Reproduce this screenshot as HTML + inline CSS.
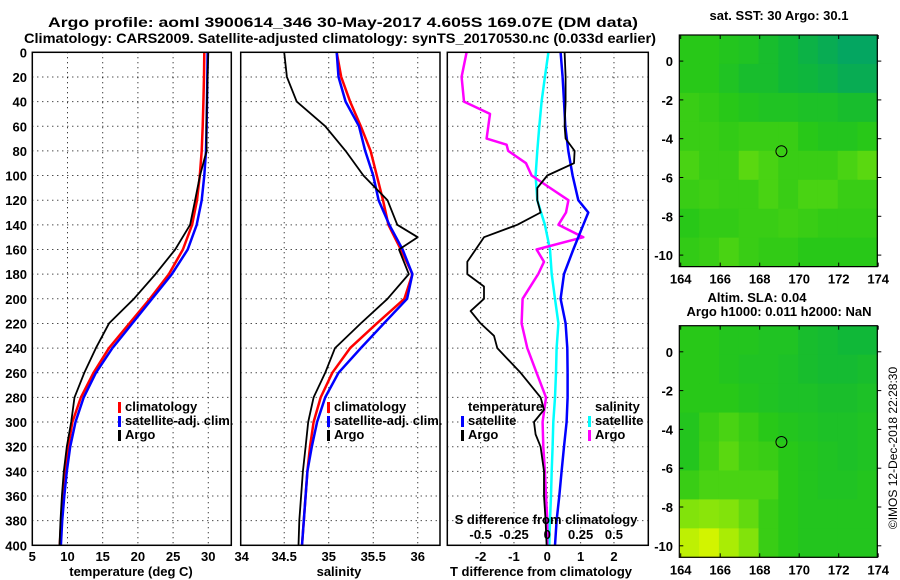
<!DOCTYPE html>
<html><head><meta charset="utf-8"><style>
body{margin:0;background:#fff;}
svg{display:block;font-family:"Liberation Sans",sans-serif;}
text{font-weight:bold;font-size:13px;fill:#000;}
</style></head><body>
<svg id="fig" width="900" height="580" viewBox="0 0 900 580">
<text x="343" y="27" text-anchor="middle" textLength="590" lengthAdjust="spacingAndGlyphs" style="font-size:14px">Argo profile: aoml 3900614_346 30-May-2017 4.605S 169.07E (DM data)</text>
<text x="340" y="43" text-anchor="middle" textLength="632" lengthAdjust="spacingAndGlyphs" style="font-size:14px">Climatology: CARS2009. Satellite-adjusted climatology: synTS_20170530.nc (0.033d earlier)</text>
<g id="g1"></g>
<g id="g2"></g>
<g id="g3"></g>
<g id="m1"></g>
<g id="m2"></g>
<text x="779" y="20" text-anchor="middle">sat. SST: 30 Argo: 30.1</text>
<text x="757" y="302" text-anchor="middle">Altim. SLA: 0.04</text>
<text x="779" y="316" text-anchor="middle">Argo h1000: 0.011 h2000: NaN</text>
<text x="0" y="0" transform="translate(897,448) rotate(-90)" text-anchor="middle" style="font-weight:normal;font-size:12px">©IMOS 12-Dec-2018 22:28:30</text>
</svg>
<script>
// ---- data ----
const depths = [0,20,40,60,80,100,120,140,160,180,200,220,240,260,280,300,320,340,360,380,400];
const tempClim = [29.44,29.39,29.3,29.2,29.06,28.8,28.4,27.7,26.4,24.4,21.7,18.8,15.9,13.7,11.9,10.7,10.1,9.7,9.3,9.1,8.9];
const tempSat = [29.9,29.86,29.82,29.76,29.68,29.44,29.06,28.35,27.08,24.83,22.01,19.2,16.38,14.04,12.3,11.13,10.38,9.9,9.54,9.25,9.06];
const tempArgo = [30.0,29.9,29.82,29.72,29.76,28.83,28.13,27.42,25.3,22.5,19.44,15.9,14.04,12.39,10.99,10.52,9.9,9.48,9.2,9.01,8.87];
const salClim = [35.09,35.14,35.24,35.36,35.47,35.54,35.61,35.67,35.81,35.94,35.85,35.54,35.24,35.04,34.91,34.83,34.79,34.76,34.74,34.72,34.70];
const salSat = [35.09,35.11,35.19,35.34,35.41,35.50,35.56,35.68,35.83,35.94,35.88,35.62,35.36,35.11,34.96,34.87,34.81,34.76,34.74,34.72,34.70];
const argoSalDepths = [0,20,40,60,80,100,120,140,150,160,180,200,220,240,260,280,300,320,340,360,380,400];
const salArgo = [34.50,34.53,34.64,34.96,35.19,35.39,35.66,35.77,36.0,35.79,35.90,35.66,35.36,35.07,34.96,34.83,34.77,34.74,34.71,34.69,34.67,34.66];
const dTsatDepths = [0,20,40,60,80,100,120,130,140,160,180,200,220,240,260,280,300,320,340,360,380,400];
const dTsat = [0.40,0.46,0.50,0.54,0.63,0.76,0.93,1.23,1.08,0.78,0.50,0.40,0.55,0.60,0.61,0.61,0.58,0.50,0.43,0.36,0.28,0.23];
const dTargoDepths = [0,20,40,60,70,80,90,100,110,120,130,140,150,170,180,190,200,210,220,230,240,260,280,290,300,310,320,340,360,380,400];
const dTargo = [0.52,0.55,0.55,0.52,0.55,0.82,0.8,0.0,-0.3,-0.3,-0.2,-0.9,-1.9,-2.4,-2.4,-1.9,-1.9,-2.3,-2.0,-1.6,-1.5,-0.8,-0.2,-0.1,-0.4,-0.35,-0.2,-0.1,-0.1,-0.05,-0.02];
const dSsat = [0.008,-0.018,-0.043,-0.06,-0.075,-0.088,-0.075,-0.018,0.02,0.033,0.058,0.083,0.07,0.065,0.058,0.045,0.04,0.033,0.028,0.02,0.015];
const dSargoDepths = [0,20,40,50,70,75,80,90,100,110,120,130,140,150,160,170,180,200,220,240,260,280,300,320,340,360,380,400];
const dSargo = [-0.605,-0.643,-0.625,-0.43,-0.455,-0.305,-0.293,-0.16,-0.118,0.02,0.158,0.14,0.083,0.27,-0.08,-0.025,-0.068,-0.185,-0.193,-0.15,-0.08,-0.01,-0.035,-0.03,-0.018,-0.01,0,0];
const depthTicks = [0,20,40,60,80,100,120,140,160,180,200,220,240,260,280,300,320,340,360,380,400];
const tempTicks = [5,10,15,20,25,30];
const salTicks = [34,34.5,35,35.5,36];
const salTickLabels = ["34","34.5","35","35.5","36"];
const dTTicks = [-2,-1,0,1,2];
const dSTicks = [-0.5,-0.25,0,0.25,0.5];
const dSTickLabels = ["-0.5","-0.25","0","0.25","0.5"];
const sstGrid = [
[0.45,0.45,0.42,0.4,0.35,0.3,0.25,0.2,0.15,0.15],
[0.45,0.45,0.4,0.35,0.35,0.3,0.28,0.25,0.2,0.2],
[0.5,0.48,0.45,0.42,0.4,0.4,0.38,0.38,0.35,0.35],
[0.5,0.5,0.48,0.5,0.5,0.5,0.45,0.42,0.42,0.45],
[0.55,0.5,0.5,0.6,0.55,0.5,0.5,0.5,0.55,0.6],
[0.5,0.52,0.5,0.5,0.55,0.5,0.55,0.55,0.5,0.5],
[0.45,0.48,0.48,0.5,0.5,0.52,0.5,0.48,0.48,0.48],
[0.48,0.5,0.55,0.5,0.48,0.48,0.45,0.45,0.45,0.45]];
const slaGrid = [
[0.45,0.45,0.42,0.42,0.4,0.4,0.35,0.33,0.3,0.3],
[0.45,0.45,0.42,0.4,0.4,0.38,0.35,0.33,0.33,0.35],
[0.45,0.45,0.45,0.42,0.4,0.38,0.38,0.36,0.36,0.38],
[0.42,0.5,0.55,0.5,0.45,0.42,0.4,0.38,0.38,0.4],
[0.42,0.52,0.6,0.52,0.5,0.45,0.42,0.4,0.38,0.4],
[0.5,0.55,0.55,0.55,0.55,0.45,0.42,0.4,0.4,0.42],
[0.7,0.72,0.7,0.62,0.5,0.45,0.42,0.42,0.42,0.42],
[0.85,0.9,0.8,0.7,0.5,0.45,0.42,0.42,0.42,0.42]];
const lonTicks = [164,166,168,170,172,174];
const latTicks = [0,-2,-4,-6,-8,-10];
const floatLon = [169.1];
const floatLat = [-4.65];

// ---- helpers ----
const NS = "http://www.w3.org/2000/svg";
function mk(parent, tag, attrs, txt){const e=document.createElementNS(NS,tag);for(const k in attrs)e.setAttribute(k,attrs[k]);if(txt!==undefined)e.textContent=txt;parent.appendChild(e);return e;}
const Y0=52.3, Y1=545.3;
const yD = d => Y0 + (d/400)*(Y1-Y0);
function lin(d0,d1,r0,r1){return v=>r0+(v-d0)/(d1-d0)*(r1-r0);}
const x1s = lin(5,33.27,32.3,231.3);
const x2s = lin(34,36.25,239.7,440);
const x3s = lin(-3,3.03,447.3,648.3);
const x3S = v => x3s(v*4);

function frame(g,xl,xr,xticks,xs,name){
  depthTicks.forEach(d=>{ if(d>0&&d<400){const l=mk(g,'line',{x1:xl,x2:xr,y1:yD(d),y2:yD(d),stroke:'#000','stroke-width':1,'stroke-dasharray':'1,4'});
    
    }});
  xticks.forEach(t=>{const x=xs(t); if(x>xl+2&&x<xr-2){const l=mk(g,'line',{x1:x,x2:x,y1:Y0,y2:Y1,stroke:'#000','stroke-width':1,'stroke-dasharray':'1,4'});
    
    }});
}
function border(g,xl,xr){const r=mk(g,'rect',{x:xl,y:Y0,width:xr-xl,height:Y1-Y0,fill:'none',stroke:'#000','stroke-width':1.5});
  
  }
function line(g,ds,vs,xs,color,w,name){
  const pts=ds.map((d,i)=>xs(vs[i]).toFixed(1)+','+yD(d).toFixed(1)).join(' ');
  const p=mk(g,'polyline',{points:pts,fill:'none',stroke:color,'stroke-width':w,'stroke-linejoin':'round'});
  
  
}
function legendEntry(g,x,y,color,label,name){
  const r=mk(g,'rect',{x:x,y:y-9,width:3,height:11,fill:color});
  
  
  const t=mk(g,'text',{x:x+7,y:y},label);
  
  
}

// ---- panel 1 ----
const g1=document.getElementById('g1');
frame(g1,32.3,231.3,tempTicks,x1s,'temperature');
line(g1,depths,tempClim,x1s,'#f00',2.5,'temperature-climatology-line');
line(g1,depths,tempSat,x1s,'#00f',2.5,'temperature-satellite-line');
line(g1,depths,tempArgo,x1s,'#000',1.8,'temperature-argo-line');
border(g1,32.3,231.3);
depthTicks.forEach(d=>{const t=mk(g1,'text',{x:27,y:yD(d)+5,'text-anchor':'end'},String(d));
  
  });
tempTicks.forEach(v=>{const t=mk(g1,'text',{x:x1s(v),y:561,'text-anchor':'middle'},String(v));
  
  });
{const t=mk(g1,'text',{x:131,y:576,'text-anchor':'middle'},'temperature (deg C)');
 
 }
legendEntry(g1,118,411,'#f00','climatology','legend-climatology');
legendEntry(g1,118,425,'#00f','satellite-adj. clim.','legend-satellite-adj');
legendEntry(g1,118,439,'#000','Argo','legend-argo');

// ---- panel 2 ----
const g2=document.getElementById('g2');
frame(g2,240.7,440,salTicks,x2s,'salinity');
line(g2,depths,salClim,x2s,'#f00',2.5,'salinity-climatology-line');
line(g2,depths,salSat,x2s,'#00f',2.5,'salinity-satellite-line');
line(g2,argoSalDepths,salArgo,x2s,'#000',1.8,'salinity-argo-line');
border(g2,240.7,440);
salTicks.forEach((v,i)=>{const t=mk(g2,'text',{x:x2s(v)+(i==0?2:0),y:561,'text-anchor':'middle'},salTickLabels[i]);
  
  });
{const t=mk(g2,'text',{x:339,y:576,'text-anchor':'middle'},'salinity');
 
 }
legendEntry(g2,327,411,'#f00','climatology','legend-climatology');
legendEntry(g2,327,425,'#00f','satellite-adj. clim.','legend-satellite-adj');
legendEntry(g2,327,439,'#000','Argo','legend-argo');

// ---- panel 3 ----
const g3=document.getElementById('g3');
frame(g3,447.3,648.3,dTTicks,x3s,'t-difference');
line(g3,depths,dSsat,x3S,'#0ff',2.5,'salinity-satellite-difference-line');
line(g3,dSargoDepths,dSargo,x3S,'#f0f',2.5,'salinity-argo-difference-line');
line(g3,dTsatDepths,dTsat,x3s,'#00f',2.5,'temperature-satellite-difference-line');
line(g3,dTargoDepths,dTargo,x3s,'#000',1.8,'temperature-argo-difference-line');
border(g3,447.3,648.3);
dTTicks.forEach(v=>{const t=mk(g3,'text',{x:x3s(v),y:561,'text-anchor':'middle'},String(v));
  
  });
dSTicks.forEach((v,i)=>{const t=mk(g3,'text',{x:x3S(v),y:539,'text-anchor':'middle'},dSTickLabels[i]);
  
  });
{const t=mk(g3,'text',{x:546,y:524,'text-anchor':'middle'},'S difference from climatology');
 
 }
{const t=mk(g3,'text',{x:541,y:576,'text-anchor':'middle'},'T difference from climatology');
 
 }
{const t=mk(g3,'text',{x:468,y:411},'temperature');
 
 
 const s=mk(g3,'text',{x:595,y:411},'salinity');
 
 }
legendEntry(g3,461,425,'#00f','satellite','legend-t-satellite');
legendEntry(g3,461,439,'#000','Argo','legend-t-argo');
legendEntry(g3,588,425,'#0ff','satellite','legend-s-satellite');
legendEntry(g3,588,439,'#f0f','Argo','legend-s-argo');

// ---- maps ----
const stops=[[0.1,[0,160,110]],[0.3,[16,184,56]],[0.45,[40,200,24]],[0.6,[90,216,16]],[0.75,[150,232,8]],[0.9,[210,244,0]]];
function cmap(v){if(v<=stops[0][0])return 'rgb('+stops[0][1]+')';
  for(let i=1;i<stops.length;i++){if(v<=stops[i][0]){const a=stops[i-1],b=stops[i],f=(v-a[0])/(b[0]-a[0]);
    return 'rgb('+a[1].map((c,k)=>Math.round(c+f*(b[1][k]-c))).join(',')+')';}}
  return 'rgb('+stops[stops.length-1][1]+')';}
function drawMap(g,top,grid,prefix){
  const L=679.3,R=877.3,T=top,B=top+231.6;
  const lonS=lin(164,174,680.7,878.2);
  const latS=v=>top+26.1+(-v)*19.4;
  const rows=grid.length, cols=grid[0].length, cw=(R-L)/cols, ch=(B-T)/rows;
  grid.forEach((row,i)=>row.forEach((v,j)=>{
    const c=mk(g,'rect',{x:L+j*cw,y:T+i*ch,width:cw+0.5,height:ch+0.5,fill:cmap(v)});
    
    
  }));
  const fr=mk(g,'rect',{x:L,y:T,width:R-L,height:B-T,fill:'none',stroke:'#000','stroke-width':1.2});
  
  
  lonTicks.forEach(v=>{const t=mk(g,'text',{x:lonS(v),y:B+17,'text-anchor':'middle'},String(v));
    
    
    mk(g,'line',{x1:lonS(v),x2:lonS(v),y1:B,y2:B-4,stroke:'#000'});
    mk(g,'line',{x1:lonS(v),x2:lonS(v),y1:T,y2:T+4,stroke:'#000'});});
  latTicks.forEach(v=>{const t=mk(g,'text',{x:673,y:latS(v)+5,'text-anchor':'end'},String(v));
    
    
    mk(g,'line',{x1:L,x2:L+4,y1:latS(v),y2:latS(v),stroke:'#000'});
    mk(g,'line',{x1:R,x2:R+4,y1:latS(v),y2:latS(v),stroke:'#000'});});
  floatLon.forEach((lo,i)=>{const c=mk(g,'circle',{cx:lonS(lo),cy:latS(floatLat[i]),r:5.5,fill:'none',stroke:'#000','stroke-width':1});
    
    });
}
drawMap(document.getElementById('m1'),35,sstGrid,'sst-map');
drawMap(document.getElementById('m2'),325.7,slaGrid,'sla-map');
</script>
</body></html>
